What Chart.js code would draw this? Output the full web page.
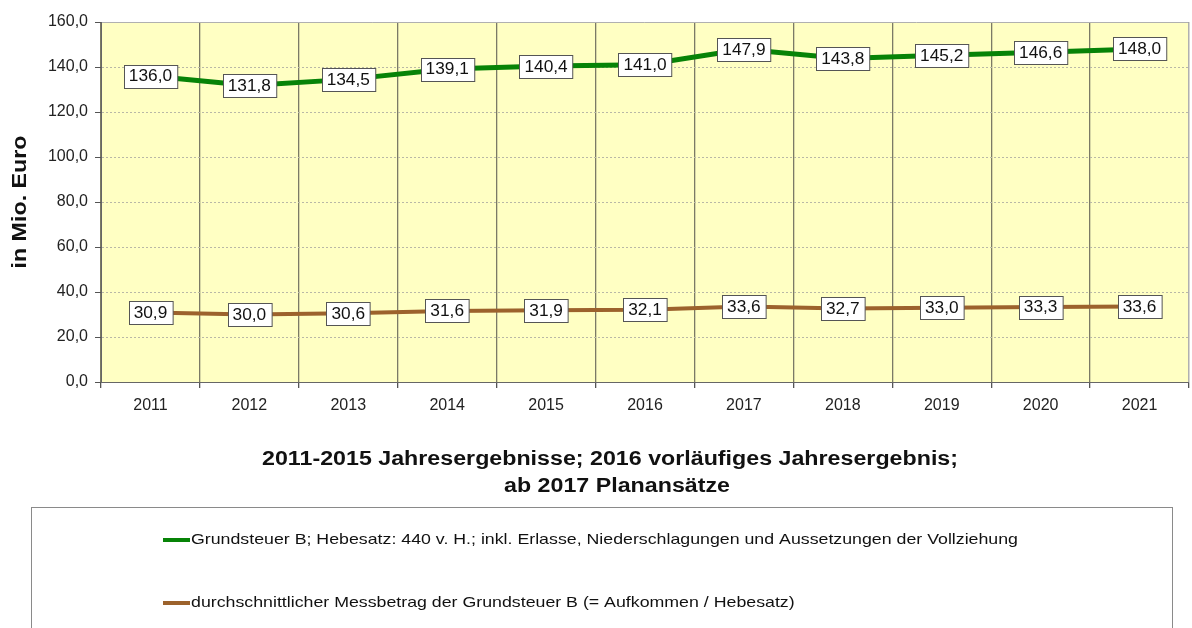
<!DOCTYPE html>
<html><head><meta charset="utf-8">
<script src="https://cdn.jsdelivr.net/npm/chart.js@4.4.0/dist/chart.umd.min.js"></script>
<style>html,body{margin:0;padding:0;background:#fff;overflow:hidden}</style>
</head><body>
<canvas id="c" width="1192" height="628"></canvas>
<script>
const years = ['2011','2012','2013','2014','2015','2016','2017','2018','2019','2020','2021'];
const grundsteuerB = [136.0,131.8,134.5,139.1,140.4,141.0,147.9,143.8,145.2,146.6,148.0];
const messbetrag = [30.9,30.0,30.6,31.6,31.9,32.1,33.6,32.7,33.0,33.3,33.6];
const yAxisTitle = 'in Mio. Euro';
const xTitleLines = ['2011-2015 Jahresergebnisse; 2016 vorläufiges Jahresergebnis;','ab 2017 Planansätze'];
const seriesNames = ['Grundsteuer B; Hebesatz: 440 v. H.; inkl. Erlasse, Niederschlagungen und Aussetzungen der Vollziehung',
  'durchschnittlicher Messbetrag der Grundsteuer B (= Aufkommen / Hebesatz)'];
const seriesColors = ['#078307','#9c622c'];

const FONT = '"Liberation Sans", Arial, sans-serif';
const fmt = v => v.toFixed(1).replace('.', ',');

function stretchText(ctx, text, x, y, font, targetW, align) {
  ctx.save();
  ctx.font = font;
  const w = ctx.measureText(text).width;
  const sx = targetW ? targetW / w : 1;
  ctx.translate(x, y);
  ctx.scale(sx, 1);
  ctx.textAlign = align || 'left';
  ctx.textBaseline = 'middle';
  ctx.fillText(text, 0, 0);
  ctx.restore();
  return sx;
}

const decor = {
  id: 'decor',
  beforeDraw(chart) {
    const {ctx, chartArea: a} = chart;
    ctx.save();
    ctx.fillStyle = '#ffffff';
    ctx.fillRect(0, 0, chart.width, chart.height);
    ctx.fillStyle = '#ffffc3';
    ctx.fillRect(a.left, a.top, a.right - a.left, a.bottom - a.top);
    ctx.restore();
  },
  afterDatasetsDraw(chart) {
    const ctx = chart.ctx;
    ctx.save();
    ctx.font = '16px ' + FONT;
    ctx.textBaseline = 'middle';
    chart.data.datasets.forEach((ds, di) => {
      const meta = chart.getDatasetMeta(di);
      meta.data.forEach((pt, i) => {
        const t = fmt(ds.data[i]);
        const tw = ctx.measureText(t).width * 1.08;
        const w = tw + 10;
        const h = 23;
        const x = Math.round(pt.x - w / 2) + 0.5, y = Math.round(pt.y - h / 2) + 0.5;
        ctx.fillStyle = '#ffffff';
        ctx.fillRect(x, y, w, h);
        ctx.strokeStyle = '#555555';
        ctx.lineWidth = 1;
        ctx.strokeRect(x, y, w, h);
        ctx.fillStyle = '#111111';
        ctx.save();
        ctx.translate(pt.x, pt.y + 1);
        ctx.scale(1.08, 1);
        ctx.textAlign = 'center';
        ctx.fillText(t, 0, 0);
        ctx.restore();
      });
    });
    ctx.restore();
  },
  afterDraw(chart) {
    const {ctx, chartArea: a} = chart;
    ctx.save();
    // plot border
    ctx.strokeStyle = '#b0b0b0';
    ctx.lineWidth = 1;
    ctx.beginPath();
    ctx.moveTo(a.left, a.top + 0.5); ctx.lineTo(a.right - 0.5, a.top + 0.5); ctx.lineTo(a.right - 0.5, a.bottom);
    ctx.stroke();
    ctx.strokeStyle = '#666666';
    ctx.beginPath();
    ctx.moveTo(a.left + 0.5, a.top); ctx.lineTo(a.left + 0.5, a.bottom + 0.5); ctx.lineTo(a.right, a.bottom + 0.5);
    ctx.stroke();
    // y title
    ctx.fillStyle = '#111111';
    ctx.save();
    ctx.translate(20, 202);
    ctx.rotate(-Math.PI / 2);
    stretchText(ctx, yAxisTitle, 0, 0, 'bold 20px ' + FONT, 133, 'center');
    ctx.restore();
    // x title
    const sx = stretchText(ctx, xTitleLines[0], 610, 459, 'bold 20px ' + FONT, 696, 'center');
    ctx.save();
    ctx.font = 'bold 20px ' + FONT;
    ctx.translate(617, 486); ctx.scale(sx, 1);
    ctx.textAlign = 'center'; ctx.textBaseline = 'middle';
    ctx.fillText(xTitleLines[1], 0, 0);
    ctx.restore();
    // legend
    ctx.strokeStyle = '#8a8a8a';
    ctx.lineWidth = 1;
    ctx.strokeRect(31.5, 507.5, 1141, 200);
    const ys = [540, 603];
    let lsx = null;
    seriesNames.forEach((name, i) => {
      ctx.strokeStyle = seriesColors[i];
      ctx.lineWidth = 4;
      ctx.beginPath(); ctx.moveTo(163, ys[i]); ctx.lineTo(190, ys[i]); ctx.stroke();
      ctx.fillStyle = '#111111';
      if (i === 0) {
        lsx = stretchText(ctx, name, 191, ys[i], '15px ' + FONT, 827, 'left');
      } else {
        ctx.save();
        ctx.font = '15px ' + FONT;
        ctx.translate(191, ys[i]); ctx.scale(lsx, 1);
        ctx.textAlign = 'left'; ctx.textBaseline = 'middle';
        ctx.fillText(name, 0, 0);
        ctx.restore();
      }
    });
    ctx.restore();
  }
};

new Chart(document.getElementById('c'), {
  type: 'line',
  data: {
    labels: years,
    datasets: [
      {label: seriesNames[0], data: grundsteuerB, borderColor: seriesColors[0], borderWidth: 5, pointRadius: 0, tension: 0, fill: false},
      {label: seriesNames[1], data: messbetrag, borderColor: seriesColors[1], borderWidth: 4, pointRadius: 0, tension: 0, fill: false}
    ]
  },
  options: {
    responsive: false,
    animation: false,
    devicePixelRatio: 1,
    layout: {padding: {top: 22, right: 3, left: 0, bottom: 0}},
    plugins: {legend: {display: false}, tooltip: {enabled: false}, title: {display: false}},
    scales: {
      x: {
        type: 'category',
        offset: true,
        grid: {offset: true, color: '#7b7a66', lineWidth: 1.3, tickLength: 6, tickColor: '#555555', drawOnChartArea: true},
        border: {color: '#666666', width: 1},
        ticks: {font: {family: FONT, size: 16}, color: '#222222', padding: 8, maxRotation: 0},
        afterFit: s => { s.height = 246; }
      },
      y: {
        min: 0, max: 160,
        grid: {color: '#b9b8a6', lineWidth: 1, tickLength: 6, tickColor: '#555555', tickBorderDash: []},
        border: {color: '#666666', width: 1, dash: [2, 2]},
        ticks: {stepSize: 20, font: {family: FONT, size: 16}, color: '#222222', padding: 7, callback: v => fmt(v)},
        afterFit: s => { s.width = 101; }
      }
    }
  },
  plugins: [decor]
});
</script>
</body></html>
